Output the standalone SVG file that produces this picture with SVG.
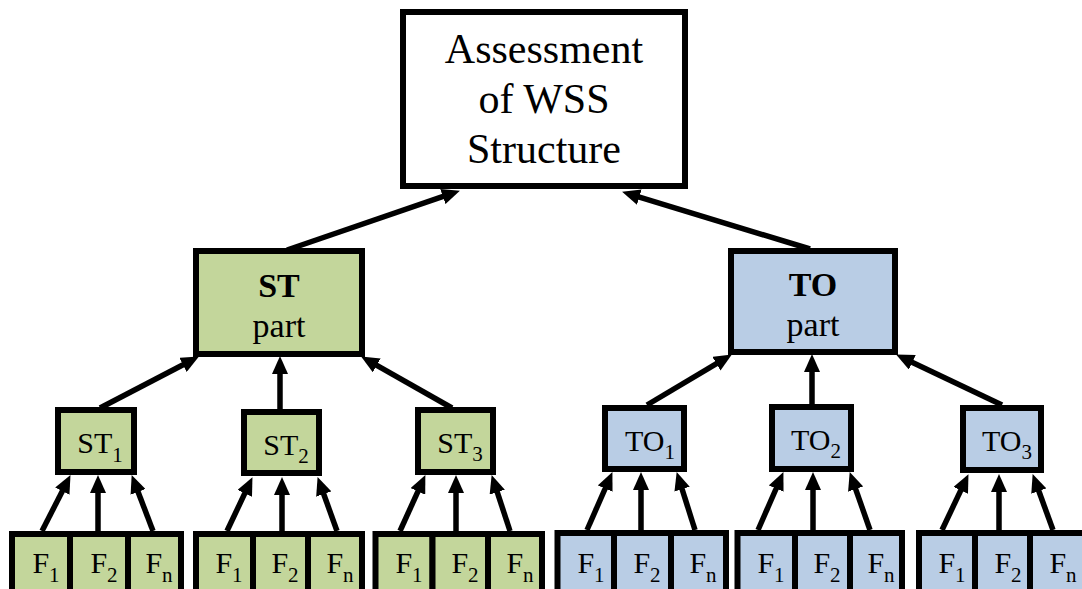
<svg xmlns="http://www.w3.org/2000/svg" width="1082" height="589" viewBox="0 0 1082 589">
<defs>
<marker id="ah" markerUnits="userSpaceOnUse" markerWidth="18" markerHeight="16" refX="5" refY="8" orient="auto">
<path d="M0,0 L18,8 L0,16 z" fill="#000"/>
</marker>
</defs>
<style>
.box{stroke:#000;stroke-width:6}
.w{fill:#fff}
.g{fill:#c3d69b}
.b{fill:#b9cde5}
.tx text{fill:#000;text-anchor:middle}
.t1{font-size:42px}
.t2{font-size:34px}
.bd{font-weight:bold}
.t3{font-size:30px}
.sub{font-size:21px}
.c line{stroke:#000;stroke-width:5.5;marker-end:url(#ah)}
</style>
<g class="tx" font-family="'Liberation Serif', 'Times New Roman', serif">
<g id="root">
<rect class="box w" x="403" y="12" width="282" height="174"/>
<text class="t1" x="544" y="63">Assessment</text>
<text class="t1" x="544" y="113">of WSS</text>
<text class="t1" x="544" y="163">Structure</text>
</g>
<g id="st-part">
<rect class="box g" x="196" y="251" width="166" height="103"/>
<text class="t2 bd" x="279" y="297">ST</text>
<text class="t2" x="279" y="337">part</text>
</g>
<g id="to-part">
<rect class="box b" x="731" y="251" width="164" height="101"/>
<text class="t2 bd" x="813" y="296">TO</text>
<text class="t2" x="813" y="336">part</text>
</g>
<g id="st1"><rect class="box g" x="58" y="410" width="76" height="62"/><text class="t3" x="100" y="453">ST<tspan class="sub" dy="9">1</tspan></text></g>
<g id="st2"><rect class="box g" x="244" y="412" width="75" height="61"/><text class="t3" x="286" y="455">ST<tspan class="sub" dy="8">2</tspan></text></g>
<g id="st3"><rect class="box g" x="418" y="410" width="75" height="62"/><text class="t3" x="460" y="453">ST<tspan class="sub" dy="8">3</tspan></text></g>
<g id="to1"><rect class="box b" x="605" y="408" width="79" height="61"/><text class="t3" x="650" y="451">TO<tspan class="sub" dy="8">1</tspan></text></g>
<g id="to2"><rect class="box b" x="772" y="407" width="79" height="62"/><text class="t3" x="816" y="450">TO<tspan class="sub" dy="8">2</tspan></text></g>
<g id="to3"><rect class="box b" x="963" y="408" width="78" height="62"/><text class="t3" x="1007" y="451">TO<tspan class="sub" dy="8">3</tspan></text></g>

<g id="st1-f1"><rect class="box g" x="12" y="534" width="58" height="70"/><text class="t3" x="46" y="573">F<tspan class="sub" dy="9">1</tspan></text></g>
<g id="st1-f2"><rect class="box g" x="70" y="534" width="58" height="70"/><text class="t3" x="104" y="573">F<tspan class="sub" dy="9">2</tspan></text></g>
<g id="st1-fn"><rect class="box g" x="128" y="534" width="53" height="70"/><text class="t3" x="159" y="573">F<tspan class="sub" dy="9">n</tspan></text></g>

<g id="st2-f1"><rect class="box g" x="196" y="534" width="57" height="70"/><text class="t3" x="229" y="573">F<tspan class="sub" dy="9">1</tspan></text></g>
<g id="st2-f2"><rect class="box g" x="253" y="534" width="55" height="70"/><text class="t3" x="285" y="573">F<tspan class="sub" dy="9">2</tspan></text></g>
<g id="st2-fn"><rect class="box g" x="308" y="534" width="54" height="70"/><text class="t3" x="340" y="573">F<tspan class="sub" dy="9">n</tspan></text></g>

<g id="st3-f1"><rect class="box g" x="375.5" y="534" width="57" height="70"/><text class="t3" x="409" y="573">F<tspan class="sub" dy="9">1</tspan></text></g>
<g id="st3-f2"><rect class="box g" x="432.5" y="534" width="55.5" height="70"/><text class="t3" x="465" y="573">F<tspan class="sub" dy="9">2</tspan></text></g>
<g id="st3-fn"><rect class="box g" x="488" y="534" width="54" height="70"/><text class="t3" x="520" y="573">F<tspan class="sub" dy="9">n</tspan></text></g>

<g id="to1-f1"><rect class="box b" x="557.5" y="533" width="56.5" height="70"/><text class="t3" x="591" y="573">F<tspan class="sub" dy="9">1</tspan></text></g>
<g id="to1-f2"><rect class="box b" x="614" y="533" width="57" height="70"/><text class="t3" x="647" y="573">F<tspan class="sub" dy="9">2</tspan></text></g>
<g id="to1-fn"><rect class="box b" x="671" y="533" width="55" height="70"/><text class="t3" x="703" y="573">F<tspan class="sub" dy="9">n</tspan></text></g>

<g id="to2-f1"><rect class="box b" x="737.5" y="533" width="57.5" height="70"/><text class="t3" x="771" y="573">F<tspan class="sub" dy="9">1</tspan></text></g>
<g id="to2-f2"><rect class="box b" x="795" y="533" width="55" height="70"/><text class="t3" x="827" y="573">F<tspan class="sub" dy="9">2</tspan></text></g>
<g id="to2-fn"><rect class="box b" x="850" y="533" width="52" height="70"/><text class="t3" x="881" y="573">F<tspan class="sub" dy="9">n</tspan></text></g>

<g id="to3-f1"><rect class="box b" x="919" y="533" width="56" height="70"/><text class="t3" x="952" y="573">F<tspan class="sub" dy="9">1</tspan></text></g>
<g id="to3-f2"><rect class="box b" x="975" y="533" width="55" height="70"/><text class="t3" x="1008" y="573">F<tspan class="sub" dy="9">2</tspan></text></g>
<g id="to3-fn"><rect class="box b" x="1030" y="533" width="55" height="70"/><text class="t3" x="1063" y="573">F<tspan class="sub" dy="9">n</tspan></text></g>
</g>
<g id="connectors" class="c">
<line x1="287" y1="250" x2="447.6" y2="194.9"/>
<line x1="810" y1="249" x2="634.5" y2="195.6"/>
<line x1="100" y1="408" x2="187.4" y2="362.5"/>
<line x1="280" y1="410" x2="280" y2="369"/>
<line x1="452" y1="408" x2="372.4" y2="362.9"/>
<line x1="647" y1="405" x2="720.7" y2="361.1"/>
<line x1="812" y1="405" x2="812" y2="367"/>
<line x1="1002" y1="405" x2="907.8" y2="360.2"/>
<line x1="42" y1="531" x2="64.6" y2="486.7"/>
<line x1="98" y1="531" x2="98" y2="488"/>
<line x1="153" y1="531" x2="136.3" y2="487.2"/>
<line x1="227" y1="531" x2="246.9" y2="488.9"/>
<line x1="282" y1="531" x2="282" y2="490"/>
<line x1="337" y1="531" x2="322" y2="489.3"/>
<line x1="400" y1="531" x2="420" y2="486.9"/>
<line x1="456" y1="531" x2="456" y2="488"/>
<line x1="510" y1="531" x2="495.7" y2="487.4"/>
<line x1="587" y1="530" x2="607.2" y2="484"/>
<line x1="641" y1="530" x2="641" y2="485"/>
<line x1="695" y1="530" x2="680.6" y2="484.4"/>
<line x1="758" y1="530" x2="778.2" y2="484"/>
<line x1="813" y1="530" x2="813" y2="485"/>
<line x1="870" y1="530" x2="854" y2="484.3"/>
<line x1="942" y1="530" x2="962.9" y2="485.9"/>
<line x1="999" y1="530" x2="999" y2="487"/>
<line x1="1053" y1="530" x2="1037.1" y2="486.3"/>
</g>
</svg>
